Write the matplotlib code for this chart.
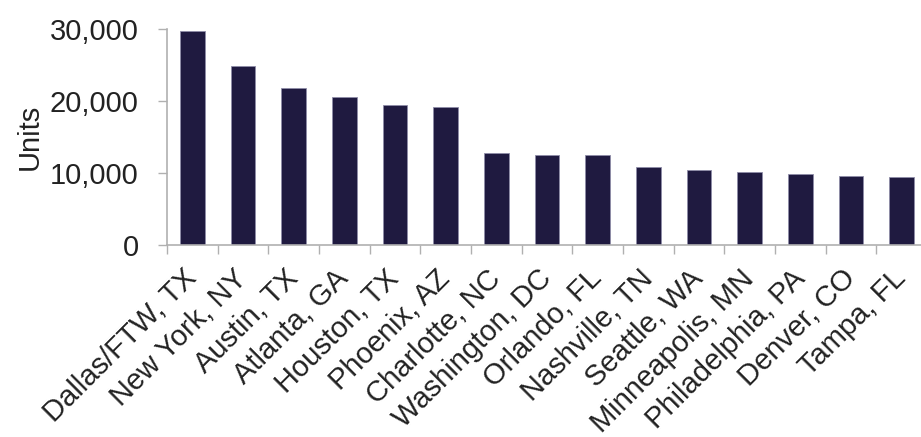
import numpy as np
import matplotlib.pyplot as plt
from matplotlib.ticker import FuncFormatter

plt.rcParams['font.family'] = ['Liberation Sans', 'DejaVu Sans']

metros = ['Dallas/FTW, TX', 'New York, NY', 'Austin, TX', 'Atlanta, GA', 'Houston, TX',
          'Phoenix, AZ', 'Charlotte, NC', 'Washington, DC', 'Orlando, FL', 'Nashville, TN',
          'Seattle, WA', 'Minneapolis, MN', 'Philadelphia, PA', 'Denver, CO', 'Tampa, FL']
units = [29700, 24900, 21800, 20600, 19500, 19200, 12750, 12500, 12450, 10850,
         10500, 10150, 9850, 9650, 9400]

fig = plt.figure(figsize=(9.21, 4.37), dpi=100)
ax = fig.add_axes([167 / 921, 192 / 437, 760 / 921, 215.7 / 437])

x = np.arange(len(metros))
ax.bar(x, units, 0.49, color='#1f1a40', edgecolor='#8f8ca8', linewidth=0.6)

ax.set_xlim(-0.5, len(metros) - 0.5)
ax.set_ylim(0, 30000)
ax.set_yticks([0, 10000, 20000, 30000])
ax.yaxis.set_major_formatter(FuncFormatter(lambda v, p: f'{int(v):,}'))

ax.set_xticks(x)
ax.set_xticklabels(metros, rotation=45, ha='right', va='center', rotation_mode='anchor')
ax.set_xticks(np.arange(-0.5, len(metros)), minor=True)
ax.tick_params(axis='x', which='major', length=0, pad=21, labelsize=21, labelcolor='#222222')
ax.tick_params(axis='x', which='minor', length=6.5, width=1, color='#b0b0b0', direction='out')
ax.tick_params(axis='y', length=6.5, width=1, color='#b0b0b0', labelsize=21,
               labelcolor='#222222', pad=14)

ax.set_ylabel('Units', fontsize=21, color='#222222', labelpad=4)

for s in ['top', 'right']:
    ax.spines[s].set_visible(False)
for s in ['left', 'bottom']:
    ax.spines[s].set_color('#b0b0b0')
    ax.spines[s].set_linewidth(1.2)

fig.savefig('out.png', dpi=100)
